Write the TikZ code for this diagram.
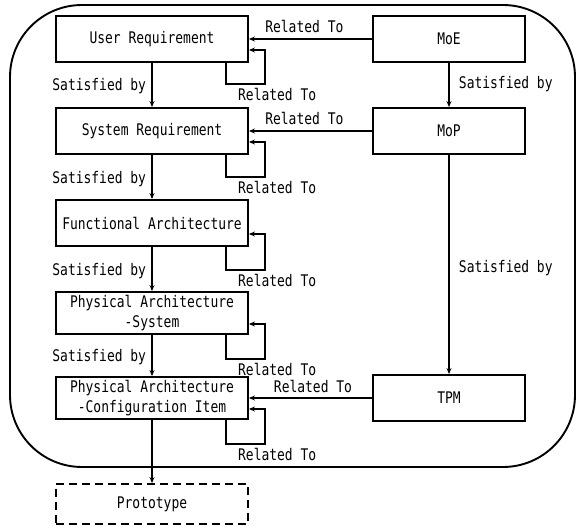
\documentclass[tikz,border=0pt]{standalone}
\usepackage{fontspec}
\setmainfont{DejaVu Sans Mono}[FakeStretch=0.81]
\usetikzlibrary{arrows.meta}
\begin{document}
\begin{tikzpicture}[x=1pt,y=-1pt,
  every node/.style={font=\fontsize{16}{20}\selectfont},
  box/.style={draw,line width=1.9pt,minimum width=192pt,inner sep=0pt,align=center},
  mbox/.style={draw,line width=1.9pt,minimum width=152pt,minimum height=46pt,inner sep=0pt},
  conn/.style={line width=1.9pt,-{Stealth[length=6pt,width=5pt]}},
  lbl/.style={inner sep=0pt}]
\useasboundingbox (0,0) rectangle (581,526);
\draw[line width=1.9pt,rounded corners=72pt] (10,5) rectangle (575,467);
% left column
\node[box,minimum height=46pt] (ur) at (152,39) {User Requirement};
\node[box,minimum height=46pt] (sr) at (152,131) {System Requirement};
\node[box,minimum height=46pt] (fa) at (152,223) {Functional Architecture};
\node[box,minimum height=42pt] (pas) at (152,313) {Physical Architecture\\-System};
\node[box,minimum height=42pt] (paci) at (152,398) {Physical Architecture\\-Configuration Item};
\node[box,minimum height=40pt,dashed,dash pattern=on 8pt off 5pt] (proto) at (152,504) {Prototype};
% right column
\node[mbox] (moe) at (449,39) {MoE};
\node[mbox] (mop) at (449,131) {MoP};
\node[mbox] (tpm) at (449,398) {TPM};
% satisfied by (left)
\draw[conn] (ur) -- node[lbl,anchor=east,xshift=-5pt,yshift=-1pt] {Satisfied by} (sr);
\draw[conn] (sr) -- node[lbl,anchor=east,xshift=-5pt,yshift=-2pt] {Satisfied by} (fa);
\draw[conn] (fa) -- node[lbl,anchor=east,xshift=-5pt,yshift=-2pt] {Satisfied by} (pas);
\draw[conn] (pas) -- node[lbl,anchor=east,xshift=-5pt,yshift=-2pt] {Satisfied by} (paci);
\draw[conn] (paci) -- (proto);
% satisfied by (right)
\draw[conn] (moe) -- node[lbl,anchor=west,xshift=9pt,yshift=1pt] {Satisfied by} (mop);
\draw[conn] (mop) -- node[lbl,anchor=west,xshift=9pt,yshift=-4pt] {Satisfied by} (tpm);
% related to (horizontal)
\draw[conn] (moe) -- node[lbl,pos=0.55,yshift=13pt] {Related To} (ur);
\draw[conn] (mop) -- node[lbl,pos=0.55,yshift=13pt] {Related To} (sr);
\draw[conn] (tpm) -- node[lbl,pos=0.48,yshift=12pt] {Related To} (paci);
% self loops
\foreach \n/\d in {ur/21,sr/22,fa/23,pas/24,paci/24}{
  \draw[conn] ([xshift=-23pt]\n.south east) -- ++(0,\d) coordinate (\n-lb) -| ([xshift=16pt,yshift=-11pt]\n.east) -- ([yshift=-11pt]\n.east);
  \node[lbl,anchor=west] at ([xshift=12pt,yshift=-11pt]\n-lb) {Related To};
}
\end{tikzpicture}
\end{document}
